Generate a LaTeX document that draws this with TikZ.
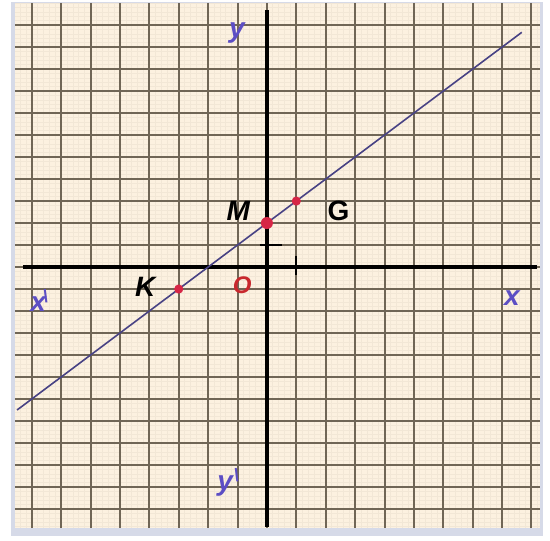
\documentclass[tikz,border=0pt]{standalone}
\usepackage{fontspec}
\setsansfont{Liberation Sans}
\usetikzlibrary{positioning}
\definecolor{Paper}{RGB}{252,241,224}
\definecolor{GridLine}{RGB}{112,102,86}
\definecolor{Frame}{RGB}{214,218,232}
\definecolor{AxisBlue}{RGB}{92,78,196}
\definecolor{LineBlue}{RGB}{72,66,132}
\definecolor{DotRed}{RGB}{214,38,70}
\definecolor{OriginRed}{RGB}{200,40,45}

\begin{document}
\begin{tikzpicture}[
    x=14.7pt, y=11pt,
    minorln/.style={GridLine!7!Paper, line width=0.3pt},
    gridln/.style={GridLine, line width=1pt},
    axis/.style={black, line width=1.6pt},
    tick/.style={black, line width=1.1pt},
    graphln/.style={LineBlue, line width=0.8pt},
    dot/.style={circle, fill=DotRed, inner sep=0pt, minimum size=6pt},
    axlbl/.style={inner sep=0pt, AxisBlue,
                  font=\fontsize{14}{16}\selectfont\sffamily\bfseries\itshape},
    ptlbl/.style={inner sep=0pt, black,
                  font=\fontsize{14}{16}\selectfont\sffamily\bfseries\itshape}
    ]
    \useasboundingbox (-9.08,-12.41) rectangle (9.63,12.14);

    % paper
    \fill[Frame] (-8.71,-12.23) rectangle (9.39,12.05);
    \fill[Paper] (-8.57,-11.86) rectangle (9.29,12.0);
    \foreach \i in {-42,...,46}
      \draw[minorln] (\i/5,-11.86) -- (\i/5,12.0);
    \foreach \j in {-59,...,60}
      \draw[minorln] (-8.57,\j/5) -- (9.29,\j/5);
    \foreach \i in {-8,...,9}
      \draw[gridln] (\i,-11.86) -- (\i,12.0);
    \foreach \j in {-11,...,11}
      \draw[gridln] (-8.57,\j) -- (9.29,\j);

    % axes
    \coordinate (O) at (0,0);
    \coordinate (xl) at (-8.3,0);
    \coordinate (xr) at (9.2,0);
    \coordinate (yt) at (0,11.7);
    \coordinate (yb) at (0,-11.8);
    \draw[axis] (xl) -- (xr);
    \draw[axis] (yb) -- (yt);
    \draw[tick] (-0.25,1) -- (0.5,1);
    \draw[tick] (1,-0.36) -- (1,0.5);

    % the line
    \coordinate (lineA) at (-8.5,-6.5);
    \coordinate (lineB) at (8.67,10.67);
    \draw[graphln] (lineA) -- (lineB);

    \node[dot] (M) at (0,2) {};
    \node[dot, minimum size=4.6pt] (G) at (1,3) {};
    \node[dot, minimum size=4.6pt] (K) at (-3,-1) {};

    \node[ptlbl, above left=-1pt and 6pt of M] (lM) {M};
    \node[ptlbl, right=13pt of G, yshift=-5pt, font=\fontsize{14}{16}\selectfont\sffamily\bfseries] (lG) {G};
    \node[ptlbl, left=9pt of K, yshift=1pt] (lK) {K};
    \node[ptlbl, OriginRed, font=\fontsize{12}{14}\selectfont\sffamily\bfseries\itshape,
          below left=4.5pt and 7.5pt of O] (lO) {O};

    \node[axlbl] (ly) at (-1.02,10.64) {y};
    \node[axlbl] (lx) at (8.33,-1.41) {x};
    \node[axlbl, anchor=base west] (lx2) at (-8.06,-2.0)
      {x\raisebox{0.55ex}{\kern-1.5pt\fontsize{9}{9}\selectfont\textbackslash}};
    \node[axlbl, anchor=base west] (ly2) at (-1.7,-10.18)
      {y\raisebox{0.65ex}{\kern0.5pt\fontsize{9}{9}\selectfont\textbackslash}};
\end{tikzpicture}
\end{document}
